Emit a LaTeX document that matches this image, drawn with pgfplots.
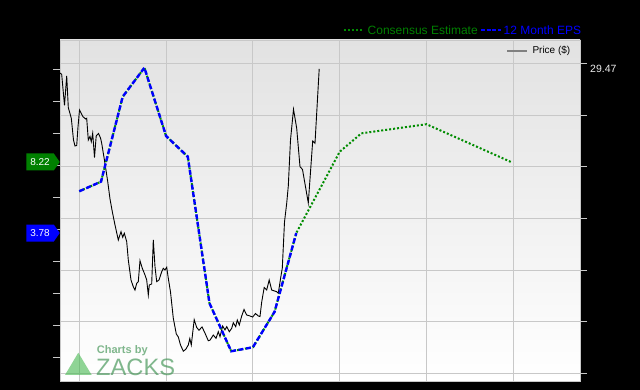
\documentclass[border=0pt]{standalone}
\usepackage{fontspec}
\setmainfont{Liberation Sans}
\usepackage{pgfplots}
\pgfplotsset{compat=1.18}
\usetikzlibrary{shapes.symbols}
\definecolor{gridc}{RGB}{200,200,200}
\definecolor{ctop}{RGB}{226,226,226}
\definecolor{cgreen}{RGB}{0,140,0}
\definecolor{cboxg}{RGB}{0,128,0}
\definecolor{cblue}{RGB}{0,0,255}
\definecolor{zgreen}{RGB}{60,145,80}
\definecolor{ztri}{RGB}{70,185,80}
\definecolor{clabel}{RGB}{235,235,235}

% Price ($): x, price
\pgfplotstableread{
x price
60 29.08
61.7 28.94
64.5 25.94
66.7 28.79
68.3 25.74
71.3 24.70
73.5 22.60
75 22.02
76.7 22.07
78 23.86
79.5 25.50
83 24.85
85.7 24.63
86.7 24.70
88.3 22.60
90 22.94
91.3 22.44
92.7 23.25
94.5 20.91
96.2 22.99
98.5 23.23
100.5 22.80
101.7 22.28
104.5 20.62
107.7 18.59
110 16.90
112.3 15.67
115 14.38
118.3 12.93
121 13.73
122.7 13.19
124.3 13.58
126.7 12.77
128.3 11.00
131 9.06
133.3 8.41
135 8.09
136.7 8.74
138.3 8.90
140 10.93
142.3 10.19
145 9.55
146.7 9.06
148.3 7.61
149.3 8.58
151.7 8.68
153.3 12.93
155 10.35
156.7 8.90
159 9.06
161.7 9.86
163.3 10.19
165 10.03
166.7 10.29
168.3 9.23
170.5 7.90
173.3 5.36
176.3 3.84
178.3 3.55
180.5 2.78
183.3 2.18
185.8 2.36
188.3 2.78
189.8 3.40
191.3 2.78
194.2 5.22
196.7 4.47
199 4.20
202 4.52
204.5 4.03
208.3 3.19
210 3.24
213.3 3.74
216 3.42
218.3 4.06
220 3.58
222.7 4.61
225 4.23
226.7 4.55
229.3 4.06
231.7 4.39
233.3 4.93
235.7 4.55
237.3 5.19
239.3 4.71
241.7 5.58
244 6.21
246.7 5.68
250 5.58
252.7 5.48
255.5 5.82
258.3 5.58
260 5.53
261.7 6.93
264.2 8.34
266.7 8.09
269.2 9.06
271.7 8.09
276.7 7.93
278.3 7.78
280.5 9.16
282.3 10.22
284.5 14.67
286.7 16.48
288.3 18.15
290.5 22.60
293.5 25.57
296.7 23.73
300 20.02
302.5 19.75
308.3 16.51
312.7 22.50
315 22.28
319.2 29.47
}\pricedata

% 12 Month EPS
\pgfplotstableread{
x eps
79.3 6.39
101 6.99
122.7 12.30
144.4 14.11
166.1 9.84
187.8 8.55
209.5 -0.61
231.2 -3.61
252.9 -3.36
274.6 -1.14
296.3 3.78
}\epsdata

% Consensus Estimate
\pgfplotstableread{
x est
79.3 6.39
101 6.99
122.7 12.30
144.4 14.11
166.1 9.84
187.8 8.55
209.5 -0.61
231.2 -3.61
252.9 -3.36
274.6 -1.14
296.3 3.78
339.7 8.86
361.4 10.01
426.5 10.58
511 8.22
}\estdata

\begin{document}
\begin{tikzpicture}
\fill[black] (0,0) rectangle (640bp,390bp);
\useasboundingbox (0,0) rectangle (640bp,390bp);

% price axis: background, grid, price line
\begin{axis}[
  at={(60bp,9bp)}, anchor=south west, scale only axis,
  width=520bp, height=341bp,
  xmin=60, xmax=580, ymin=-0.706, ymax=32.27,
  axis background/.style={top color=ctop, middle color=white, bottom color=white},
  axis line style={draw=gridc, line width=0.6bp},
  xtick={79.3,166.1,252.9,339.7,426.5,513.3}, xticklabels={},
  ytick={0,5,...,30}, yticklabels={},
  xmajorgrids, ymajorgrids,
  grid style={draw=gridc, line width=1bp},
  tick style={draw=none},
]
\addplot[black, line width=0.9bp] table[x=x, y=price] {\pricedata};
\coordinate (c2947) at (axis cs:580,29.47);
\end{axis}

% EPS axis
\begin{axis}[
  at={(60bp,9bp)}, anchor=south west, scale only axis,
  width=520bp, height=341bp,
  xmin=60, xmax=580, ymin=-5.469, ymax=15.844,
  axis line style={draw=none},
  xtick=\empty,
  ytick={-4,-2,...,14}, yticklabels={},
  ytick pos=left, tick align=outside, major tick length=7bp,
  tick style={draw=gridc, line width=1bp},
]
\addplot[cgreen, line width=2bp, dash pattern=on 2bp off 2bp] table[x=x, y=est] {\estdata};
\addplot[cblue, line width=2.4bp, dash pattern=on 5bp off 2.5bp] table[x=x, y=eps] {\epsdata};
\coordinate (c822) at (axis cs:60,8.22);
\coordinate (c378) at (axis cs:60,3.78);
\end{axis}

% right ticks (price scale)
\begin{axis}[
  at={(60bp,9bp)}, anchor=south west, scale only axis,
  width=520bp, height=341bp,
  xmin=60, xmax=580, ymin=-0.706, ymax=32.27,
  axis line style={draw=none},
  xtick=\empty,
  ytick={0,5,...,30}, yticklabels={},
  ytick pos=right, tick align=outside, major tick length=7bp,
  tick style={draw=gridc, line width=1bp},
]
\addplot[draw=none] coordinates {(60,0)};
\end{axis}

% value boxes
\node[signal, signal to=east, signal pointer angle=110, fill=cboxg, text=white,
  font=\fontsize{10bp}{10bp}\selectfont, inner xsep=4bp, inner ysep=0bp,
  minimum height=17bp, anchor=east] at (c822) {8.22};
\node[signal, signal to=east, signal pointer angle=110, fill=cblue, text=white,
  font=\fontsize{10bp}{10bp}\selectfont, inner xsep=4bp, inner ysep=0bp,
  minimum height=17bp, anchor=east] at (c378) {3.78};
\node[anchor=west, inner sep=0, text=clabel, font=\fontsize{10.5bp}{10.5bp}\selectfont]
  at ([xshift=10bp]c2947) {29.47};

% top legend
\draw[cgreen, line width=2bp, dash pattern=on 2bp off 2bp] (344bp,359.5bp) -- (362bp,359.5bp);
\node[anchor=west, inner sep=0, text=cboxg, font=\fontsize{12bp}{12bp}\selectfont]
  at (367.5bp,359.5bp) {Consensus Estimate};
\draw[cblue, line width=2bp, dash pattern=on 4bp off 1.5bp] (481bp,359.5bp) -- (501bp,359.5bp);
\node[anchor=west, inner sep=0, text=cblue, font=\fontsize{12bp}{12bp}\selectfont]
  at (503.5bp,359.5bp) {12 Month EPS};

% price legend
\draw[gray, line width=2bp] (507.3bp,339bp) -- (526.7bp,339bp);
\node[anchor=west, inner sep=0, text=black, font=\fontsize{10bp}{10bp}\selectfont]
  at (532.3bp,339bp) {Price (\$)};

% logo
\fill[ztri, opacity=0.6] (65bp,15bp) -- (91.7bp,15bp) -- (78.3bp,37.3bp) -- cycle;
\node[anchor=base west, inner sep=0, text=zgreen, opacity=0.65,
  font=\fontsize{11bp}{11bp}\bfseries\selectfont] at (96.7bp,36.5bp) {Charts by};
\node[anchor=base west, inner sep=0, text=zgreen, opacity=0.65,
  font=\fontsize{23.7bp}{23.7bp}\selectfont] at (96bp,15bp) {ZACKS};
\end{tikzpicture}
\end{document}
